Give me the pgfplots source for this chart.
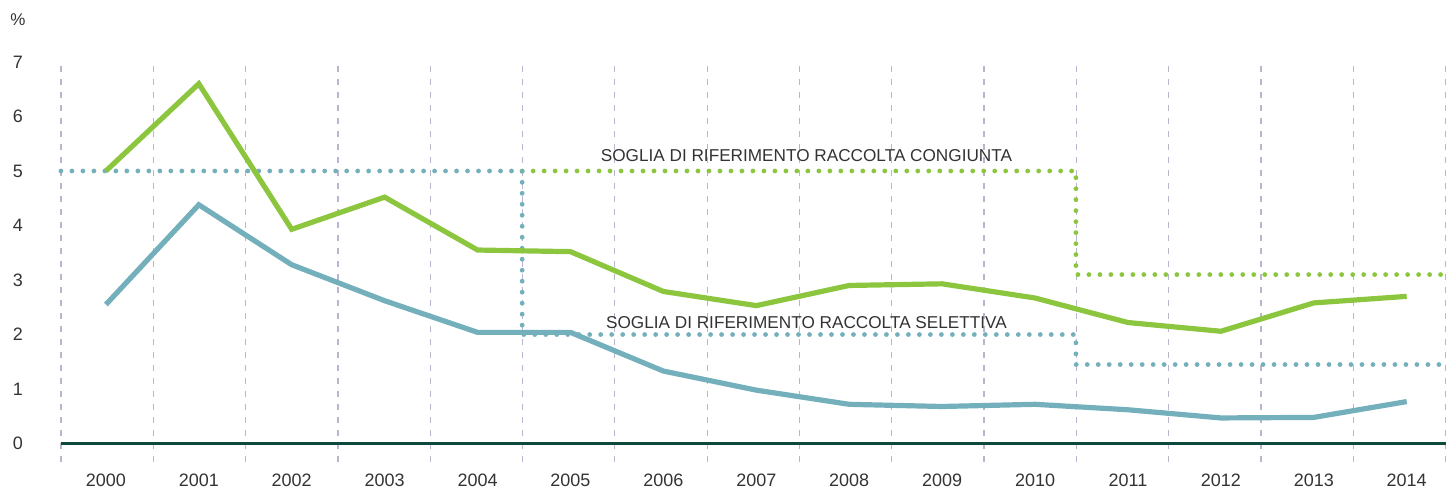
\documentclass[border=0pt]{standalone}
\usepackage{fontspec}
\setmainfont{Liberation Sans}
\usepackage{pgfplots}
\pgfplotsset{compat=1.18}

\definecolor{verde}{HTML}{8CC63F}
\definecolor{azzurro}{HTML}{74AFBC}
\definecolor{zeroline}{HTML}{0E4A3B}
\definecolor{griglia}{HTML}{B9B5CC}
\definecolor{testo}{HTML}{333333}

\begin{document}
\begin{tikzpicture}
\begin{axis}[
    scale only axis,
    width=693pt, height=200pt,
    xmin=-0.484, xmax=14.419,
    ymin=-0.33, ymax=7,
    clip=false,
    axis line style={draw=none},
    major tick length=0pt, minor tick length=0pt,
    xtick={0,...,14},
    xticklabels={2000,2001,2002,2003,2004,2005,2006,2007,2008,2009,2010,2011,2012,2013,2014},
    minor xtick={-0.484,0.510,1.503,2.497,3.490,4.484,5.477,6.471,7.464,8.458,9.451,10.445,11.438,12.432,13.425,14.419},
    minor x grid style={griglia, line width=0.6pt, dash pattern=on 3pt off 3.5pt},
    xminorgrids=true,
    ytick={0,...,7},
    /pgf/number format/assume math mode=true,
    ticklabel style={font=\fontsize{9}{10}\selectfont, text=testo},
    xticklabel style={anchor=center, yshift=-9.5pt},
    yticklabel style={anchor=center, xshift=-21.5pt},
]
% soglie di riferimento
\addplot[verde, line width=2.4pt, line cap=round, dash pattern=on 0pt off 5.5pt]
  coordinates {(4.48,5) (10.44,5) (10.44,3.1) (14.419,3.1)};
\addplot[azzurro, line width=2.4pt, line cap=round, dash pattern=on 0pt off 5.5pt]
  coordinates {(-0.484,5) (4.48,5) (4.48,2) (10.44,2) (10.44,1.45) (14.419,1.45)};
% linea dello zero
\addplot[zeroline, line width=1.4pt] coordinates {(-0.484,0) (14.419,0)};
% raccolta congiunta
\addplot[verde, line width=2.6pt] coordinates {
  (0,5.0) (1,6.6) (2,3.93) (3,4.52) (4,3.55) (5,3.52) (6,2.79) (7,2.53)
  (8,2.9) (9,2.93) (10,2.67) (11,2.22) (12,2.06) (13,2.58) (14,2.7)};
% raccolta selettiva
\addplot[azzurro, line width=2.6pt] coordinates {
  (0,2.55) (1,4.38) (2,3.28) (3,2.62) (4,2.04) (5,2.04) (6,1.33) (7,0.98)
  (8,0.72) (9,0.68) (10,0.72) (11,0.62) (12,0.47) (13,0.48) (14,0.77)};

\node[text=testo, font=\fontsize{8.6}{10}\selectfont] at (axis cs:7.54,5.29)
  {SOGLIA DI RIFERIMENTO RACCOLTA CONGIUNTA};
\node[text=testo, font=\fontsize{8.6}{10}\selectfont] at (axis cs:7.54,2.22)
  {SOGLIA DI RIFERIMENTO RACCOLTA SELETTIVA};
\node[text=testo, font=\fontsize{8.5}{10}\selectfont] at (rel axis cs:-0.031,1.105) {\%};
\path (rel axis cs:-0.044,1.155) rectangle (rel axis cs:1.0007,-0.07);
\end{axis}
\end{tikzpicture}
\end{document}
